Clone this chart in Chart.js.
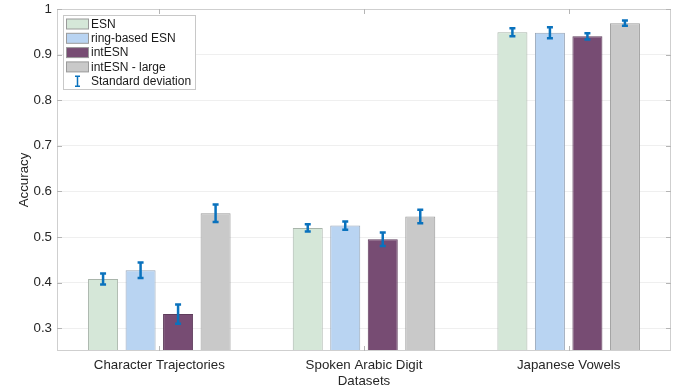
<!DOCTYPE html>
<html>
<head>
<meta charset="utf-8">
<script src="https://cdn.jsdelivr.net/npm/chart.js@4/dist/chart.umd.min.js"></script>
<style>
  html, body { margin: 0; padding: 0; background: #fff; }
  #wrap { width: 686px; height: 389px; position: relative; }
</style>
</head>
<body>
<div id="wrap"><canvas id="c" width="686" height="389"></canvas></div>
<script>
// Datasets on the x axis
const categories = ['Character Trajectories', 'Spoken Arabic Digit', 'Japanese Vowels'];

// Mean accuracy per model
const esn        = [0.408, 0.520, 0.949];
const ringEsn    = [0.427, 0.525, 0.948];
const intEsn     = [0.331, 0.495, 0.940];
const intEsnLarge = [0.552, 0.545, 0.969];

// Standard deviation per model
const esnStd        = [0.012, 0.008, 0.009];
const ringEsnStd    = [0.017, 0.009, 0.012];
const intEsnStd     = [0.021, 0.015, 0.007];
const intEsnLargeStd = [0.019, 0.015, 0.006];

// Y axis ticks
const yTicks = [0.3, 0.4, 0.5, 0.6, 0.7, 0.8, 0.9, 1.0];
const yTickLabels = ['0.3', '0.4', '0.5', '0.6', '0.7', '0.8', '0.9', '1'];

const seriesNames = ['ESN', 'ring-based ESN', 'intESN', 'intESN - large'];
const fills   = ['#d5e7d8', '#b9d4f2', '#774c73', '#c9c9c9'];
const borders = ['#a9b5ab', '#98a6b8', '#5f3d5c', '#9a9a9a'];
const stdSets = [esnStd, ringEsnStd, intEsnStd, intEsnLargeStd];
const ERR_BLUE = '#0a72bd';
const FONT = '"Liberation Sans", Arial, Helvetica, sans-serif';

const datasets = [esn, ringEsn, intEsn, intEsnLarge].map((vals, i) => ({
  label: seriesNames[i],
  data: vals,
  backgroundColor: fills[i],
  borderColor: borders[i],
  borderWidth: 1,
  borderSkipped: false,
  std: stdSets[i],
  categoryPercentage: 0.733,
  barPercentage: 0.8
}));

// Error bars drawn at each bar's mean ± std
const errorBars = {
  id: 'errorBars',
  afterDatasetsDraw(chart) {
    const ctx = chart.ctx;
    const y = chart.scales.y;
    ctx.save();
    ctx.strokeStyle = ERR_BLUE;
    ctx.lineWidth = 2.5;
    chart.data.datasets.forEach((ds, di) => {
      const meta = chart.getDatasetMeta(di);
      meta.data.forEach((bar, i) => {
        const m = ds.data[i], s = ds.std[i];
        const yt = y.getPixelForValue(m + s);
        const yb = y.getPixelForValue(m - s);
        const x = bar.x, cap = 3;
        ctx.beginPath();
        ctx.moveTo(x, yt); ctx.lineTo(x, yb);
        ctx.moveTo(x - cap, yt); ctx.lineTo(x + cap, yt);
        ctx.moveTo(x - cap, yb); ctx.lineTo(x + cap, yb);
        ctx.stroke();
      });
    });
    ctx.restore();
  }
};

// Axes box with inward tick marks
const axesBox = {
  id: 'axesBox',
  afterDraw(chart) {
    const ctx = chart.ctx;
    const a = chart.chartArea;
    const y = chart.scales.y, x = chart.scales.x;
    ctx.save();
    ctx.strokeStyle = '#cfcfcf';
    ctx.lineWidth = 1;
    ctx.strokeRect(Math.round(a.left) + 0.5, Math.round(a.top) + 0.5,
                   Math.round(a.right - a.left) - 1, Math.round(a.bottom - a.top) - 1);
    ctx.strokeStyle = '#b5b5b5';
    ctx.beginPath();
    yTicks.forEach(v => {
      const py = Math.round(y.getPixelForValue(v)) + 0.5;
      ctx.moveTo(a.left, py); ctx.lineTo(a.left + 5, py);
      ctx.moveTo(a.right, py); ctx.lineTo(a.right - 5, py);
    });
    categories.forEach((c, i) => {
      const px = Math.round(x.getPixelForValue(i)) + 0.5;
      ctx.moveTo(px, a.bottom); ctx.lineTo(px, a.bottom - 5);
      ctx.moveTo(px, a.top); ctx.lineTo(px, a.top + 5);
    });
    ctx.stroke();
    ctx.restore();
  }
};

// Legend box in the upper-left corner of the plot
const legendBox = {
  id: 'legendBox',
  afterDraw(chart) {
    const ctx = chart.ctx;
    const a = chart.chartArea;
    const bx = a.left + 6.5, by = a.top + 6.5, bw = 132, bh = 74;
    ctx.save();
    ctx.fillStyle = '#ffffff';
    ctx.fillRect(bx, by, bw, bh);
    ctx.strokeStyle = '#c8c8c8';
    ctx.lineWidth = 1;
    ctx.strokeRect(bx, by, bw, bh);
    ctx.font = '12px ' + FONT;
    ctx.textBaseline = 'middle';
    ctx.fillStyle = '#1a1a1a';
    const rowY = i => by + 8.5 + i * 14.3;
    chart.data.datasets.forEach((ds, i) => {
      const cy = rowY(i);
      ctx.fillStyle = ds.backgroundColor;
      ctx.fillRect(bx + 3, cy - 5, 22, 10);
      ctx.strokeStyle = '#9a9a9a';
      ctx.strokeRect(bx + 3, cy - 5, 22, 10);
      ctx.fillStyle = '#1a1a1a';
      ctx.fillText(ds.label, bx + 27.5, cy + 0.5);
    });
    const cy = rowY(4);
    const ix = bx + 14;
    ctx.strokeStyle = ERR_BLUE;
    ctx.lineWidth = 1.5;
    ctx.beginPath();
    ctx.moveTo(ix, cy - 5); ctx.lineTo(ix, cy + 5);
    ctx.moveTo(ix - 2.5, cy - 5); ctx.lineTo(ix + 2.5, cy - 5);
    ctx.moveTo(ix - 2.5, cy + 5); ctx.lineTo(ix + 2.5, cy + 5);
    ctx.stroke();
    ctx.fillStyle = '#1a1a1a';
    ctx.fillText('Standard deviation', bx + 27.5, cy + 0.5);
    ctx.restore();
  }
};

new Chart(document.getElementById('c'), {
  type: 'bar',
  data: { labels: categories, datasets },
  options: {
    responsive: false,
    animation: false,
    devicePixelRatio: 1,
    layout: { padding: { left: 0, right: 15, top: 9, bottom: 0 } },
    plugins: { legend: { display: false }, tooltip: { enabled: false } },
    scales: {
      x: {
        offset: true,
        grid: { display: false, drawTicks: false },
        border: { display: false },
        ticks: { color: '#262626', font: { family: FONT, size: 13.3 }, padding: 6, maxRotation: 0 },
        title: { display: true, text: 'Datasets', color: '#262626',
                 font: { family: FONT, size: 13.3 }, padding: { top: 0, bottom: 0 } },
        afterFit: s => { s.height = 38; s.paddingLeft = 0; s.paddingRight = 0; }
      },
      y: {
        min: 0.25,
        max: 1,
        grid: { color: '#efefef', drawTicks: false },
        border: { display: false },
        afterBuildTicks: s => { s.ticks = yTicks.map(v => ({ value: v })); },
        ticks: {
          color: '#262626', font: { family: FONT, size: 13.3 }, padding: 5,
          callback: (v) => {
            const i = yTicks.findIndex(t => Math.abs(t - v) < 1e-9);
            return i >= 0 ? yTickLabels[i] : '';
          }
        },
        title: { display: true, text: 'Accuracy', color: '#262626',
                 font: { family: FONT, size: 13.3 }, padding: { top: 16, bottom: 0 } },
        afterFit: s => { s.width = 57; s.paddingTop = 0; s.paddingBottom = 0; }
      }
    }
  },
  plugins: [errorBars, axesBox, legendBox]
});
</script>
</body>
</html>
